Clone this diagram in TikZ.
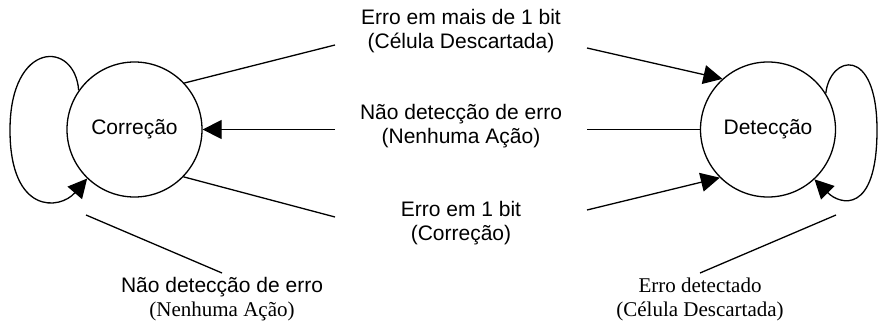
\documentclass[tikz,border=0pt]{standalone}
\usepackage{fontspec}
\setmainfont{Liberation Sans}
\newfontfamily\tms{Liberation Serif}
\usetikzlibrary{arrows.meta}
\begin{document}
\begin{tikzpicture}[x=1pt,y=-1pt,
  state/.style={draw, circle, line width=1.3pt, minimum size=135pt, inner sep=0pt, font=\fontsize{21}{24}\selectfont},
  lbl/.style={align=center, font=\fontsize{21}{24}\selectfont, inner sep=0pt},
  conn/.style={line width=1.3pt},
  arr/.style={conn, -{Triangle[length=19pt,width=19pt]}}]
\useasboundingbox (0,0) rectangle (880,324);

\node[state] (corr) at (134.5,129.5) {\raisebox{5pt}{Correção}};
\node[state] (det) at (768,129.5) {\raisebox{5pt}{Detecção}};

\node[lbl] (ltop) at (461,31.5) {Erro em mais de 1 bit\\(Célula Descartada)};
\node[lbl] (lmid) at (461,126) {Não detecção de erro\\(Nenhuma Ação)};
\node[lbl] (lbot) at (461,223) {Erro em 1 bit\\(Correção)};
\node[lbl] (lbl1) at (222,299.5) {Não detecção de erro\\{\tms (Nenhuma Ação)}};
\node[lbl, font=\fontsize{21}{24}\tms] (lbl2) at (700,299.5) {Erro detectado\\(Célula Descartada)};

% free ends near the labels
\coordinate (tl) at (335,45);
\coordinate (tr) at (587,48);
\coordinate (ml) at (335,129.5);
\coordinate (mr) at (587,129.5);
\coordinate (bl) at (335,217);
\coordinate (br) at (587,210);
\coordinate (la) at (86,215);
\coordinate (lb) at (222,273);
\coordinate (ra) at (836,215);
\coordinate (rb) at (700,273);
\coordinate (lw) at (10,130);
\coordinate (re) at (877,130);

% transitions
\draw[conn] (corr.43) -- (tl);
\draw[arr] (tr) -- (det.132);
\draw[arr] (ml) -- (corr.east);
\draw[conn] (mr) -- (det.west);
\draw[conn] (corr.-44) -- (bl);
\draw[arr] (br) -- (det.225);

% self loops
\draw[arr] (corr.145) .. controls (75,40) and (10,40) .. (lw)
  .. controls (10,215) and (60,210) .. (corr.226);
\draw[arr] (det.32) .. controls (830,55) and (877,45) .. (re)
  .. controls (877,215) and (840,205) .. (det.-47);

% pointers to self-loop labels
\draw[conn] (la) -- (lb);
\draw[conn] (ra) -- (rb);
\end{tikzpicture}
\end{document}
